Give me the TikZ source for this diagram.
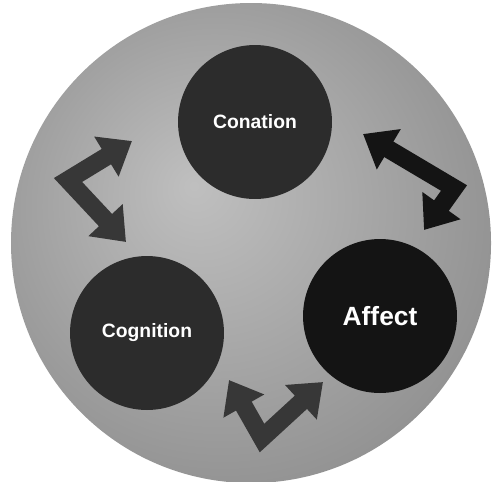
\documentclass[tikz,border=0pt]{standalone}
\usepackage{fontspec}
\setmainfont{Liberation Sans}
\usepackage{tikz}
\usetikzlibrary{arrows.meta}
\definecolor{ballgray}{RGB}{44,44,44}
\definecolor{balldark}{RGB}{20,20,20}
\definecolor{linkgray}{RGB}{55,55,55}
\pgfdeclareradialshading{discshade}{\pgfpoint{-6bp}{6bp}}{color(0bp)=(black!25); color(28bp)=(black!42); color(50bp)=(black!68)}

\begin{document}
\begin{tikzpicture}[x=0.02cm, y=-0.02cm,
    stage/.style={circle, fill=ballgray, minimum size=3.08cm, inner sep=0pt, text=white, font=\bfseries\fontsize{11}{13}\selectfont},
    link/.style={line width=0.36cm, draw=linkgray, line join=miter, {Triangle[width=0.9cm,length=0.6cm]}-{Triangle[width=0.9cm,length=0.6cm]}}
]
    \useasboundingbox (0,0) rectangle (492,481);
    \shade[shading=discshade] (251,243) circle[radius=240];

    \node[stage] (conation) at (255,122) {Conation};
    \node[stage, fill=balldark, font=\bfseries\fontsize{15}{18}\selectfont] (affect) at (380,316) {Affect};
    \node[stage] (cognition) at (147,333) {Cognition};

    \coordinate (lefttop) at (132,141);
    \coordinate (leftbend) at (68,180);
    \coordinate (leftlow) at (126,242);
    \coordinate (righttop) at (363,134);
    \coordinate (rightbend) at (454,188);
    \coordinate (rightlow) at (424,230);
    \coordinate (lowleft) at (229,380);
    \coordinate (lowbend) at (262,438);
    \coordinate (lowright) at (323,382);

    \draw[link] (lefttop) -- (leftbend) -- (leftlow);
    \draw[link, draw=balldark] (righttop) -- (rightbend) -- (rightlow);
    \draw[link] (lowleft) -- (lowbend) -- (lowright);
\end{tikzpicture}
\end{document}
